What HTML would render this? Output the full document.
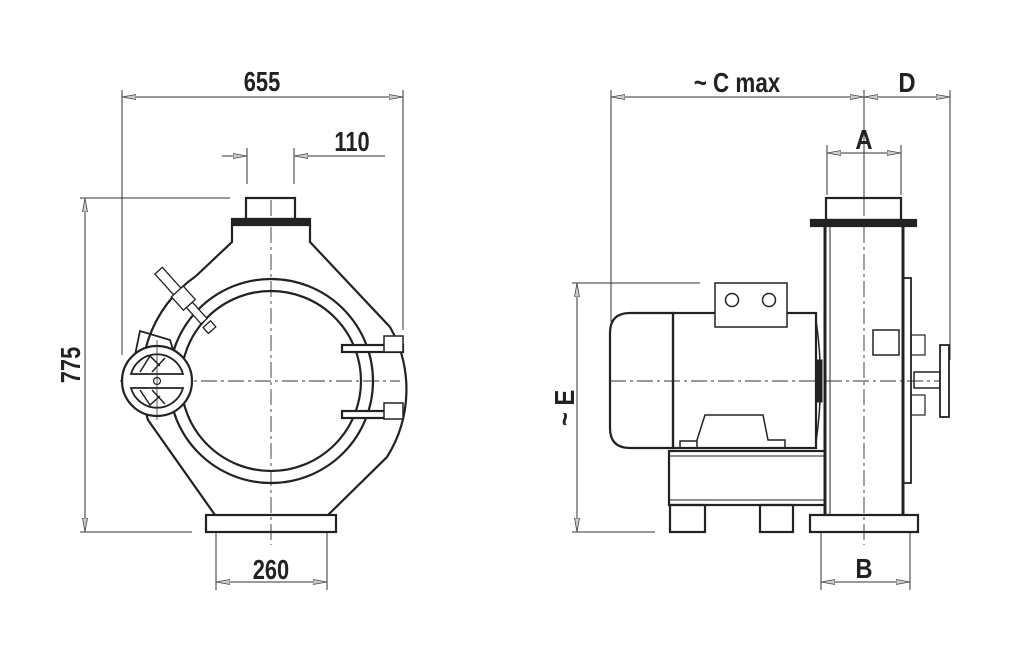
<!DOCTYPE html>
<html><head><meta charset="utf-8"><style>
html,body{margin:0;padding:0;background:#fff;}
svg{display:block}
text{font-family:"Liberation Sans",sans-serif;font-size:28px;font-weight:bold;fill:#222;}
</style></head><body>
<svg width="1024" height="651" viewBox="0 0 1024 651" xmlns="http://www.w3.org/2000/svg">
<defs>
<marker id="ar" viewBox="0 0 14 6" refX="14" refY="3" markerWidth="14" markerHeight="6" markerUnits="userSpaceOnUse" orient="auto-start-reverse">
<path d="M0,0.5 L14,3 L0,5.5 Z" fill="#ccc" stroke="#444" stroke-width="0.8"/>
</marker>
</defs>
<g stroke="#333" stroke-width="1" fill="none">
<line x1="122" y1="90" x2="122" y2="355"/>
<line x1="403" y1="90" x2="403" y2="330"/>
<line x1="122" y1="97" x2="403" y2="97" marker-start="url(#ar)" marker-end="url(#ar)"/>
<line x1="247" y1="148" x2="247" y2="184"/>
<line x1="294" y1="148" x2="294" y2="184"/>
<line x1="222" y1="156" x2="247" y2="156" marker-end="url(#ar)"/>
<line x1="385" y1="156" x2="294" y2="156" marker-end="url(#ar)"/>
<line x1="80" y1="198" x2="230" y2="198"/>
<line x1="80" y1="532" x2="192" y2="532"/>
<line x1="85" y1="198" x2="85" y2="532" marker-start="url(#ar)" marker-end="url(#ar)"/>
<line x1="216" y1="532" x2="216" y2="590"/>
<line x1="327" y1="532" x2="327" y2="590"/>
<line x1="216" y1="582" x2="327" y2="582" marker-start="url(#ar)" marker-end="url(#ar)"/>
<line x1="611" y1="90" x2="611" y2="322"/>
<line x1="950" y1="90" x2="950" y2="360"/>
<line x1="611" y1="97" x2="864" y2="97" marker-start="url(#ar)" marker-end="url(#ar)"/>
<line x1="864" y1="97" x2="950" y2="97" marker-start="url(#ar)" marker-end="url(#ar)"/>
<line x1="864" y1="90" x2="864" y2="200"/>
<line x1="827" y1="145" x2="827" y2="195"/>
<line x1="901" y1="145" x2="901" y2="195"/>
<line x1="827" y1="153" x2="901" y2="153" marker-start="url(#ar)" marker-end="url(#ar)"/>
<line x1="572" y1="283" x2="700" y2="283"/>
<line x1="572" y1="532" x2="655" y2="532"/>
<line x1="577" y1="283" x2="577" y2="532" marker-start="url(#ar)" marker-end="url(#ar)"/>
<line x1="821" y1="532" x2="821" y2="590"/>
<line x1="910" y1="532" x2="910" y2="590"/>
<line x1="821" y1="582" x2="910" y2="582" marker-start="url(#ar)" marker-end="url(#ar)"/>
<g stroke-dasharray="16,4,3,4" stroke-width="0.9">
<line x1="271" y1="200" x2="271" y2="545"/>
<line x1="120" y1="381" x2="400" y2="381"/>
<line x1="610" y1="381" x2="952" y2="381"/>
<line x1="864" y1="200" x2="864" y2="545"/>
</g>
</g>

<g stroke="#222" stroke-width="2.2" fill="none">
<rect x="246" y="198" width="49" height="21"/>
<rect x="232" y="219" width="78" height="6" fill="#222"/>
<path d="M232,225 L232,242 L196,276"/>
<path d="M310,225 L310,242 L390,327"/>
<path d="M390,327 A127,127 0 0 1 387,457 L328,515"/>
<path d="M196,276 A127,127 0 0 0 148,420 L215,515"/>
<rect x="206" y="515" width="130" height="17"/>
<circle cx="271" cy="381" r="102"/>
<circle cx="271" cy="381" r="90"/>
<rect x="342" y="345" width="61" height="7" fill="#fff"/>
<rect x="342" y="411" width="61" height="7" fill="#fff"/>
<rect x="384" y="336" width="19" height="16" fill="#fff" stroke-width="1.5"/>
<rect x="384" y="403" width="19" height="16" fill="#fff" stroke-width="1.5"/>
<g transform="rotate(48 176 290)" stroke-width="1.3">
<rect x="150" y="285" width="28" height="10" fill="#fff"/>
<rect x="178" y="282" width="18" height="16" fill="#fff"/>
<rect x="196" y="286" width="22" height="8" fill="#fff"/>
<rect x="222" y="285" width="8" height="10" fill="#fff"/>
</g>
<path d="M135,355 L140,331 L170,340 L175,356" stroke-width="1.8"/>
<circle cx="157" cy="381" r="35" fill="#fff"/>
<path d="M131,374 A27,27 0 0 1 183,374 Z" stroke-width="1.8"/>
<path d="M131,388 A27,27 0 0 0 183,388 Z" stroke-width="1.8"/>
<path d="M140,372 L150,356 L160,366 M152,372 L165,358" stroke-width="1.5"/>
<path d="M140,390 L150,405 L160,396 M152,390 L165,404" stroke-width="1.5"/>
<circle cx="157" cy="381" r="3.5" stroke-width="1.2"/>
</g>
<line x1="157" y1="340" x2="157" y2="420" stroke="#333" stroke-width="0.8"/>

<g stroke="#222" stroke-width="2.2" fill="none">
<rect x="826" y="198" width="75" height="22"/>
<rect x="811" y="220" width="105" height="6" fill="#222"/>
<line x1="825" y1="226" x2="825" y2="515" stroke-width="3"/>
<line x1="903" y1="226" x2="903" y2="515" stroke-width="3"/>
<line x1="830" y1="226" x2="830" y2="515" stroke-width="1"/>
<rect x="903" y="278" width="8" height="205" stroke-width="1.8"/>
<rect x="810" y="515" width="108" height="17"/>
<path d="M673,313 L630,313 Q610,313 610,333 L610,428 Q610,448 630,448 L673,448 Z"/>
<rect x="673" y="313" width="143" height="135"/>
<path d="M816,320 Q825,381 816,442" stroke-width="1.5"/>
<rect x="816" y="360" width="6" height="42" fill="#222" stroke-width="1"/>
<rect x="715" y="283" width="72" height="44" fill="#fff" stroke-width="1.5"/>
<circle cx="732" cy="300" r="6.5" stroke-width="1.5"/>
<circle cx="769" cy="300" r="6.5" stroke-width="1.5"/>
<path d="M697,447 L697,440 L705,415 L763,415 L768,440 L785,440 L785,447 M680,447 L680,441 L697,441" stroke-width="1.5"/>
<rect x="669" y="451" width="156" height="54"/>
<line x1="669" y1="456" x2="825" y2="456" stroke-width="1"/>
<line x1="669" y1="500" x2="825" y2="500" stroke-width="1"/>
<rect x="670" y="505" width="35" height="27"/>
<rect x="760" y="505" width="33" height="27"/>
<rect x="873" y="330" width="26" height="25" stroke-width="1.5" fill="#fff"/>
<rect x="911" y="335" width="14" height="20" stroke-width="1.2"/>
<rect x="911" y="395" width="14" height="20" stroke-width="1.2"/>
<rect x="914" y="372" width="26" height="16" stroke-width="1.5"/>
<rect x="940" y="345" width="9" height="72" stroke-width="1.8" fill="#fff"/>
</g>

<g>
<text x="262" y="91" text-anchor="middle" transform="scale(0.78 1)" style="transform-origin:262px 91px">655</text>
<text x="352" y="151" text-anchor="middle" transform="scale(0.78 1)" style="transform-origin:352px 151px">110</text>
<text x="0" y="0" text-anchor="middle" transform="translate(80 365) rotate(-90) scale(0.78 1)">775</text>
<text x="271" y="579" text-anchor="middle" transform="scale(0.78 1)" style="transform-origin:271px 579px">260</text>
<text x="737" y="92" text-anchor="middle" transform="scale(0.8 1)" style="transform-origin:737px 92px">~ C max</text>
<text x="907" y="92" text-anchor="middle" transform="scale(0.85 1)" style="transform-origin:907px 92px">D</text>
<text x="864" y="149" text-anchor="middle" transform="scale(0.85 1)" style="transform-origin:864px 149px">A</text>
<text x="0" y="0" text-anchor="middle" transform="translate(574 408) rotate(-90) scale(0.85 1)">~ E</text>
<text x="864" y="578" text-anchor="middle" transform="scale(0.85 1)" style="transform-origin:864px 578px">B</text>
</g>
</svg>
</body></html>
